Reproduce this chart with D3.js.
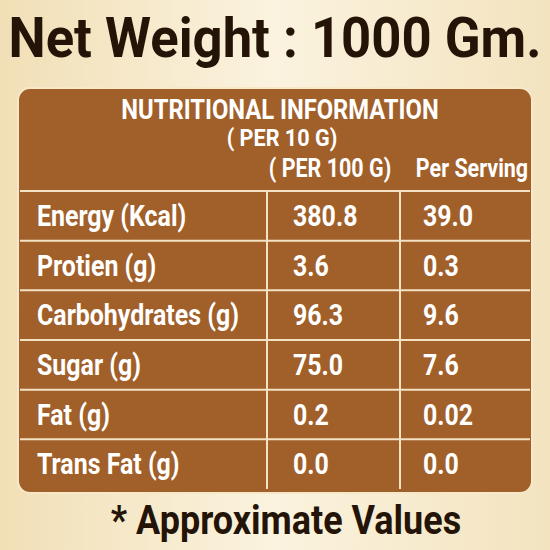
<!DOCTYPE html>
<html><head><meta charset="utf-8">
<script src="https://cdn.jsdelivr.net/npm/d3@7"></script>
<style>body{margin:0;}svg{display:block;}</style>
</head><body><div id="chart"></div>
<script>
const nutrients = ["Energy (Kcal)", "Protien (g)", "Carbohydrates (g)", "Sugar (g)", "Fat (g)", "Trans Fat (g)"];
const per100 = ["380.8", "3.6", "96.3", "75.0", "0.2", "0.0"];
const perServing = ["39.0", "0.3", "9.6", "7.6", "0.02", "0.0"];
const columns = ["( PER 100 G)", "Per Serving"];

const W = 550, H = 550;
const svg = d3.select("#chart").append("svg").attr("width", W).attr("height", H);

// background
const defs = svg.append("defs");
const bg = defs.append("linearGradient").attr("id", "bg").attr("x1", 0).attr("x2", 1).attr("y1", 0).attr("y2", 0);
bg.append("stop").attr("offset", 0).attr("stop-color", "#f1dfb6");
bg.append("stop").attr("offset", 0.5).attr("stop-color", "#fbf3df");
bg.append("stop").attr("offset", 1).attr("stop-color", "#f3e3bf");
svg.append("rect").attr("width", W).attr("height", H).attr("fill", "url(#bg)");

const font = "Roboto, 'Noto Sans', sans-serif";
function condText(g, x, y, txt, size, fill, anchor, sx) {
  return g.append("text").attr("transform", `translate(${x},${y}) scale(${sx || 0.86},1)`)
    .attr("text-anchor", anchor || "start").attr("font-family", font).attr("font-weight", 700)
    .attr("font-size", size).attr("fill", fill).text(txt);
}

condText(svg, W / 2, 57, "Net Weight : 1000 Gm.", 56, "#241407", "middle", 0.94);

// box
svg.append("rect").attr("x", 18).attr("y", 88).attr("width", 514).attr("height", 405).attr("rx", 12)
  .attr("fill", "#a1602a").attr("stroke", "#f6e8c8").attr("stroke-width", 2);

condText(svg, 280, 119, "NUTRITIONAL INFORMATION", 27, "#fff", "middle", 0.88);
condText(svg, 282, 146, "( PER 10 G)", 24, "#fff", "middle", 0.9);

const x = d3.scaleOrdinal().domain([0, 1, 2]).range([20, 267, 400]);
const colEnd = 530;
const y = d3.scaleBand().domain(d3.range(nutrients.length)).range([191, 489]);

condText(svg, 330, 177, columns[0], 25, "#fff", "middle");
condText(svg, 472, 177, columns[1], 25, "#fff", "middle");

const lineColor = "#f3e2c4";
svg.selectAll(".hl").data(d3.range(nutrients.length)).join("line")
  .attr("x1", 20).attr("x2", colEnd).attr("y1", d => y(d)).attr("y2", d => y(d))
  .attr("stroke", lineColor).attr("stroke-width", 2);
svg.selectAll(".vl").data([1, 2]).join("line")
  .attr("x1", d => x(d)).attr("x2", d => x(d)).attr("y1", y(0)).attr("y2", 489)
  .attr("stroke", lineColor).attr("stroke-width", 2);

const rows = svg.append("g");
nutrients.forEach((n, i) => {
  const cy = y(i) + y.bandwidth() / 2 + 10;
  condText(rows, 37, cy, n, 29, "#fff");
  condText(rows, 293, cy, per100[i], 29, "#fff");
  condText(rows, 423, cy, perServing[i], 29, "#fff");
});

condText(svg, 286, 534, "* Approximate Values", 40, "#241407", "middle", 0.9);
</script></body></html>
